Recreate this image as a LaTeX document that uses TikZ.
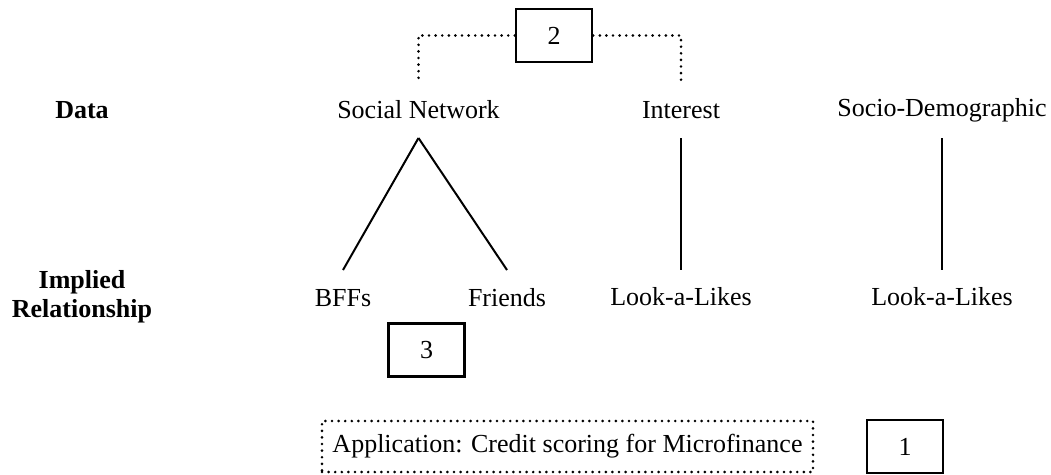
\documentclass[tikz,border=0pt]{standalone}
\usepackage{fontspec}
\setmainfont{Liberation Serif}
\begin{document}
\begin{tikzpicture}[x=1pt,y=-1pt,
  every node/.style={font=\fontsize{26}{29}\selectfont, inner sep=0pt},
  lbl/.style={anchor=base},
  hdr/.style={font=\fontsize{26}{29}\selectfont\bfseries, align=center},
  numbox/.style={draw, line width=2.4pt, minimum width=76pt, minimum height=53pt},
  dotline/.style={line width=2.9pt, line cap=round, dash pattern=on 0pt off 6.6pt},
  link/.style={line width=2pt}]
\useasboundingbox (0,0) rectangle (1051,474);

% row labels
\node[hdr, anchor=base] (data) at (82,118) {Data};
\node[hdr] (imp) at (82,296.5) {Implied\\Relationship};

% data nodes
\node[lbl] (sn) at (418.5,118) {Social Network};
\node[lbl] (int) at (681,118) {Interest};
\node[lbl] (sd) at (942,116) {Socio-Demographic};

% implied relationship nodes
\node[lbl] (bff) at (343,306) {BFFs};
\node[lbl] (fr) at (507,306) {Friends};
\node[lbl] (lal1) at (681,305) {Look-a-Likes};
\node[lbl] (lal2) at (942,305) {Look-a-Likes};

% numbered boxes
\node[numbox] (b2) at (554,35.5) {2};
\node[numbox] (b3) at (426.5,350) {3};
\node[numbox] (b1) at (905,446.5) {1};

% application
\node[draw, dotline, minimum width=491pt, minimum height=51pt] (app) at (567.5,446.5)
  {Application: Credit scoring for Microfinance};

% connector end points
\coordinate (snA) at (sn |- 0,138);
\coordinate (bffA) at (bff |- 0,270);
\coordinate (frA) at (fr |- 0,270);
\coordinate (intA) at (int |- 0,138);
\coordinate (lal1A) at (lal1 |- 0,270);
\coordinate (sdA) at (sd |- 0,138);
\coordinate (lal2A) at (lal2 |- 0,270);
\coordinate (snT) at (sn |- 0,82);
\coordinate (intT) at (int |- 0,82);

% tree links
\draw[link] (snA) -- (bffA);
\draw[link] (snA) -- (frA);
\draw[link] (intA) -- (lal1A);
\draw[link] (sdA) -- (lal2A);

% dotted bracket from box 2
\draw[dotline] (b2.west) -| (snT);
\draw[dotline] (b2.east) -| (intT);
\end{tikzpicture}
\end{document}
